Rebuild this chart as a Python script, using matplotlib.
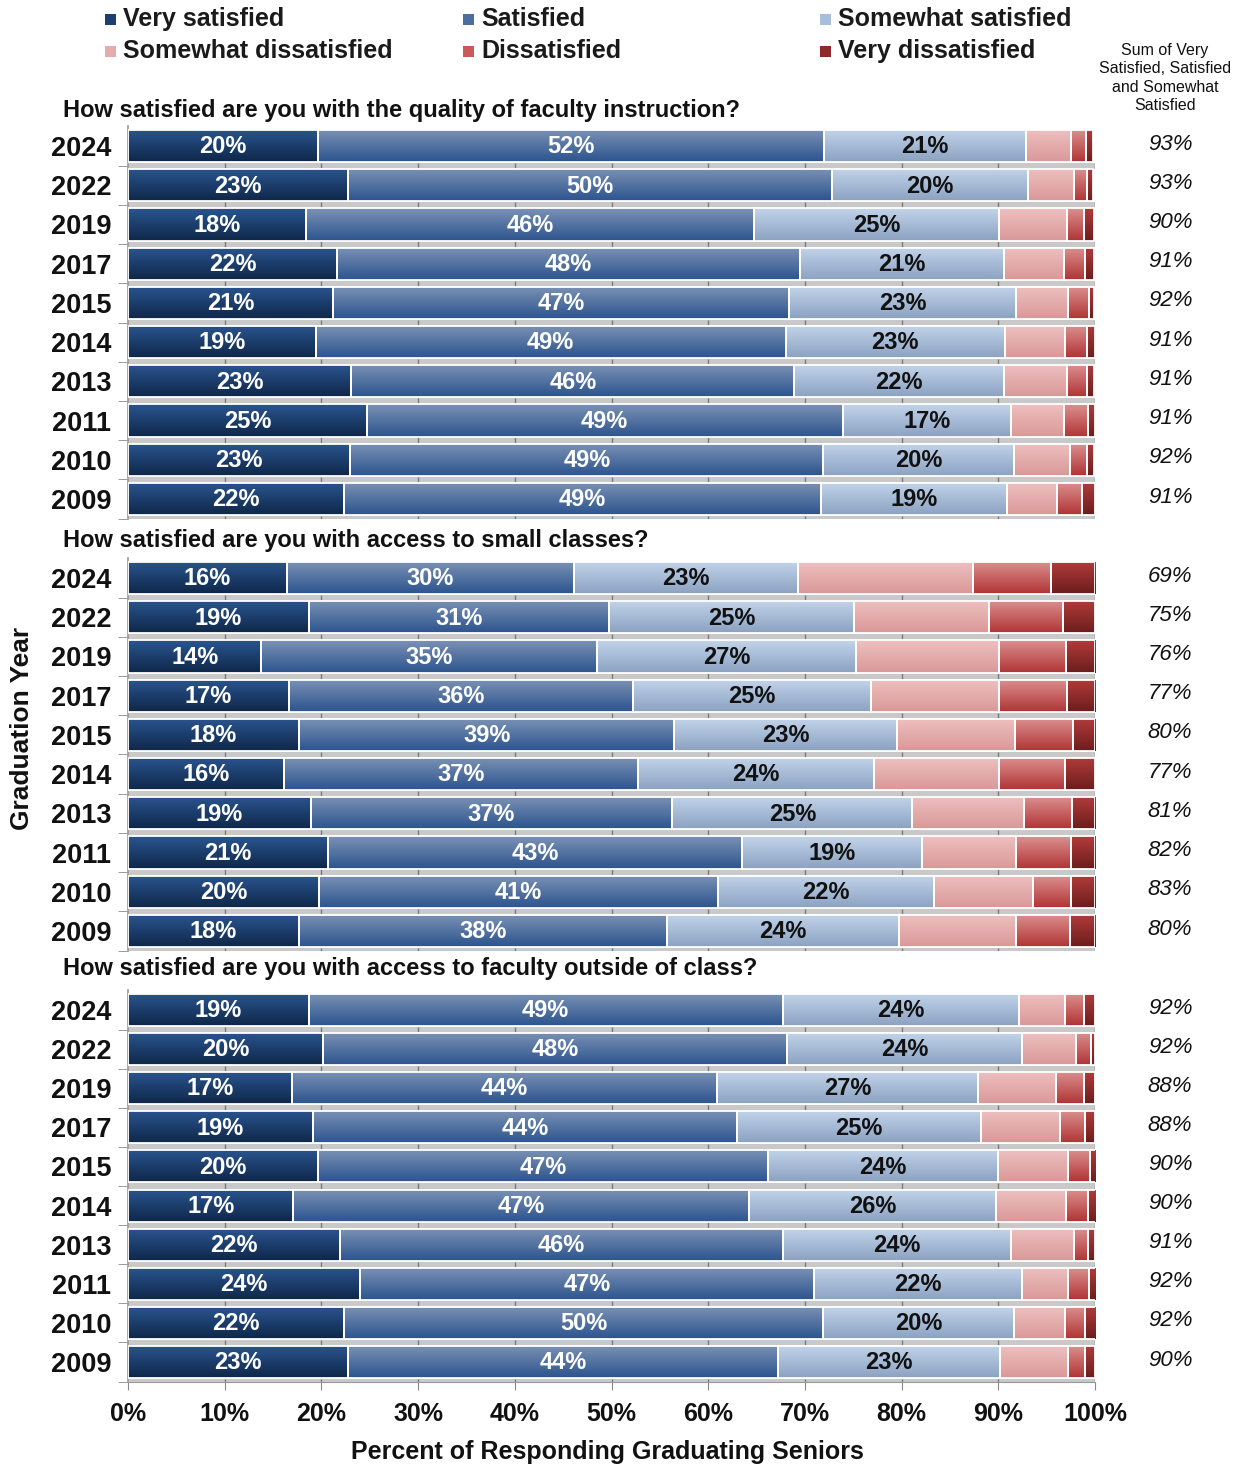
import numpy as np
import matplotlib
matplotlib.use("Agg")
import matplotlib.pyplot as plt
from matplotlib.colors import LinearSegmentedColormap
from matplotlib.patches import Rectangle
import matplotlib.transforms as mtransforms

plt.rcParams['font.family'] = ['Liberation Sans', 'DejaVu Sans']

# Dati (percentuali)
years = ['2024', '2022', '2019', '2017', '2015', '2014', '2013', '2011', '2010', '2009']

categories = ['Very satisfied', 'Satisfied', 'Somewhat satisfied',
              'Somewhat dissatisfied', 'Dissatisfied', 'Very dissatisfied']

titles = ['How satisfied are you with the quality of faculty instruction?',
          'How satisfied are you with access to small classes?',
          'How satisfied are you with access to faculty outside of class?']

# Domanda 1: qualita' dell'insegnamento
q1_very_sat = [19.6, 22.8, 18.4, 21.6, 21.2, 19.4, 23.1, 24.7, 23.0, 22.3]
q1_sat = [52.4, 50.0, 46.3, 47.9, 47.2, 48.6, 45.8, 49.2, 48.9, 49.4]
q1_some_sat = [20.9, 20.3, 25.4, 21.1, 23.4, 22.7, 21.7, 17.4, 19.7, 19.2]
q1_some_dis = [4.6, 4.7, 7.0, 6.2, 5.4, 6.2, 6.5, 5.5, 5.8, 5.2]
q1_dis = [1.6, 1.4, 1.8, 2.2, 2.2, 2.3, 2.1, 2.5, 1.8, 2.6]
q1_very_dis = [0.7, 0.6, 1.0, 0.9, 0.5, 0.8, 0.7, 0.7, 0.7, 1.3]
q1_sum = [93, 93, 90, 91, 92, 91, 91, 91, 92, 91]

# Domanda 2: classi piccole
q2_very_sat = [16.4, 18.7, 13.8, 16.6, 17.7, 16.1, 18.9, 20.7, 19.8, 17.7]
q2_sat = [29.7, 31.0, 34.7, 35.6, 38.8, 36.6, 37.4, 42.8, 41.2, 38.0]
q2_some_sat = [23.2, 25.4, 26.8, 24.6, 23.0, 24.4, 24.8, 18.6, 22.4, 24.0]
q2_some_dis = [18.1, 13.9, 14.8, 13.3, 12.2, 13.0, 11.6, 9.7, 10.2, 12.1]
q2_dis = [8.0, 7.7, 6.9, 7.0, 6.0, 6.8, 4.9, 5.7, 3.9, 5.6]
q2_very_dis = [4.6, 3.3, 3.0, 2.9, 2.3, 3.1, 2.4, 2.5, 2.5, 2.6]
q2_sum = [69, 75, 76, 77, 80, 77, 81, 82, 83, 80]

# Domanda 3: accesso ai docenti fuori dalle lezioni
q3_very_sat = [18.7, 20.2, 17.0, 19.1, 19.6, 17.1, 21.9, 24.0, 22.3, 22.8]
q3_sat = [49.0, 48.0, 43.9, 43.9, 46.6, 47.1, 45.8, 46.9, 49.6, 44.4]
q3_some_sat = [24.4, 24.2, 27.0, 25.2, 23.8, 25.6, 23.6, 21.6, 19.7, 23.0]
q3_some_dis = [4.8, 5.6, 8.1, 8.2, 7.2, 7.2, 6.5, 4.7, 5.3, 7.0]
q3_dis = [2.0, 1.6, 2.9, 2.6, 2.3, 2.3, 1.5, 2.2, 2.1, 1.8]
q3_very_dis = [1.1, 0.4, 1.1, 1.0, 0.6, 0.8, 0.7, 0.7, 1.1, 1.0]
q3_sum = [92, 92, 88, 88, 90, 90, 91, 92, 92, 90]

panels = [
    [q1_very_sat, q1_sat, q1_some_sat, q1_some_dis, q1_dis, q1_very_dis, q1_sum],
    [q2_very_sat, q2_sat, q2_some_sat, q2_some_dis, q2_dis, q2_very_dis, q2_sum],
    [q3_very_sat, q3_sat, q3_some_sat, q3_some_dis, q3_dis, q3_very_dis, q3_sum],
]

# Colori (alto, basso) per il gradiente di ogni segmento
gradienti = [('#2a5590', '#0f2749'), ('#7b92b5', '#2c548e'), ('#c2d4ea', '#8ba2c1'),
             ('#eec0c0', '#da9898'), ('#dc9090', '#b03434'), ('#b23c3c', '#6c1c1c')]
colori_legenda = ['#1b3f70', '#4c6e9e', '#a8bedb', '#e6acac', '#c85a5a', '#8e2a2a']
colori_testo = ['white', 'white', '#111111']

W, H = 1241, 1467
fig = plt.figure(figsize=(W / 100, H / 100), dpi=100)

# posizioni dei pannelli (pixel: alto, basso)
pannelli_px = [(126.4, 518.6), (558.4, 950.6), (990.4, 1381.6)]
titoli_y = [110, 540, 969]
x0_px, x1_px = 128, 1095
h_bar = 0.82


def barra_sfumata(ax, patch, top, bottom):
    cmap = LinearSegmentedColormap.from_list('g', [top, bottom])
    x, y = patch.get_x(), patch.get_y()
    w, h = patch.get_width(), patch.get_height()
    grad = np.linspace(0, 1, 64).reshape(-1, 1)
    im = ax.imshow(grad, cmap=cmap, extent=(x, x + w, y + h, y), aspect='auto',
                   origin='upper', zorder=2, interpolation='bilinear')
    im.set_clip_path(patch)


for i, dati in enumerate(panels):
    top_px, bot_px = pannelli_px[i]
    ax = fig.add_axes([x0_px / W, 1 - bot_px / H, (x1_px - x0_px) / W, (bot_px - top_px) / H])
    ypos = np.arange(len(years))
    valori = dati[:6]
    somme = dati[6]

    # striscia grigia sotto ogni barra
    ax.barh(ypos + 0.5, [100] * len(years), left=0, height=0.15, color='#c9c9c9',
            edgecolor='none', zorder=1)
    for yy in ypos:
        ax.vlines(np.arange(10, 101, 10), yy + 0.43, yy + 0.57, color='#7a7a7a', lw=1, zorder=1.5)

    left = np.zeros(len(years))
    for k, serie in enumerate(valori):
        serie = np.array(serie)
        bars = ax.barh(ypos, serie, left=left, height=h_bar, facecolor='none',
                       edgecolor='white', linewidth=1.3, zorder=3)
        for p in bars.patches:
            barra_sfumata(ax, p, gradienti[k][0], gradienti[k][1])
        if k < 3:
            for yy, l, v in zip(ypos, left, serie):
                ax.text(l + v / 2, yy + 0.02, f"{round(v)}%", ha='center', va='center',
                        fontsize=17, fontweight='bold', color=colori_testo[k], zorder=4)
        left = left + serie

    # somma dei soddisfatti a destra
    trans = mtransforms.blended_transform_factory(ax.transAxes, ax.transData)
    for yy, s in zip(ypos, somme):
        ax.text((1170 - x0_px) / (x1_px - x0_px), yy - 0.05, f"{s}%", transform=trans,
                ha='center', va='center', fontsize=16, fontstyle='italic', color='#111111')

    ax.set_xlim(0, 100)
    ax.set_ylim(len(years) - 0.5, -0.5)
    ax.set_yticks(ypos)
    ax.set_yticklabels(years, fontsize=19.5, fontweight='bold', color='#111111')
    ax.set_yticks(ypos + 0.5, minor=True)
    ax.tick_params(axis='y', which='major', length=0, pad=12)
    ax.tick_params(axis='y', which='minor', length=7, color='#8a8a8a', direction='out')
    for s in ['top', 'right']:
        ax.spines[s].set_visible(False)
    ax.spines['left'].set_color('#9a9a9a')
    ax.spines['left'].set_linewidth(1.2)
    if i < 2:
        ax.spines['bottom'].set_visible(False)
        ax.set_xticks([])
    else:
        ax.spines['bottom'].set_color('#9a9a9a')
        ax.set_xticks(np.arange(0, 101, 10))
        ax.set_xticklabels([f"{t}%" for t in range(0, 101, 10)], fontsize=18,
                           fontweight='bold', color='#111111')
        ax.tick_params(axis='x', length=6, color='#8a8a8a', direction='out', pad=9)

    fig.text(63 / W, 1 - titoli_y[i] / H, titles[i], fontsize=17, fontweight='bold',
             va='center', ha='left', color='#111111')

# legenda manuale
leg_x = [105, 463, 820]
leg_y = [19, 51]
for k, nome in enumerate(categories):
    col, riga = k % 3, k // 3
    xx, yy = leg_x[col], leg_y[riga]
    fig.patches.append(Rectangle((xx / W, 1 - (yy + 6) / H), 11 / W, 11 / H,
                                 transform=fig.transFigure, facecolor=colori_legenda[k],
                                 edgecolor='none'))
    fig.text((xx + 18) / W, 1 - yy / H, nome, fontsize=18, fontweight='bold',
             va='center', ha='left', color='#1a1a1a')

fig.text(1165 / W, 1 - 78 / H, "Sum of Very\nSatisfied, Satisfied\nand Somewhat\nSatisfied",
         fontsize=11.5, ha='center', va='center', linespacing=1.3, color='#111111')

fig.text(22 / W, 1 - 728 / H, 'Graduation Year', rotation=90, fontsize=19,
         fontweight='bold', ha='center', va='center', color='#111111')
fig.text(607 / W, 1 - 1452 / H, 'Percent of Responding Graduating Seniors', fontsize=18,
         fontweight='bold', ha='center', va='center', color='#111111')

fig.savefig('out.png', dpi=100)
